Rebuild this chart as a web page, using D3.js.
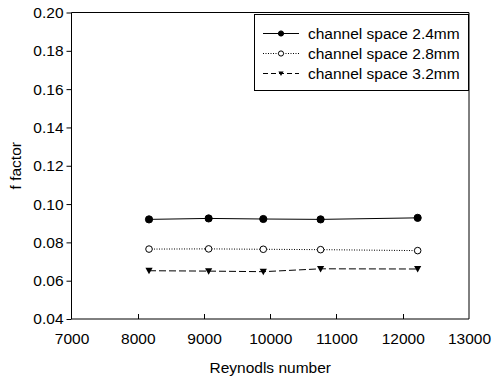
<!DOCTYPE html>
<meta charset="utf-8">
<style>
body { margin: 0; background: #fff; }
svg { font-family: "Liberation Sans", Arial, sans-serif; }
.axis path { display: none; }
.axis text { font-size: 15.5px; fill: #000; }
</style>
<svg width="492" height="380"></svg>
<script src="https://cdn.jsdelivr.net/npm/d3@7"></script>
<script>

var reynolds = [8170, 9070, 9895, 10760, 12225];
var space24 = [0.0920, 0.0925, 0.0922, 0.0920, 0.0928];
var space28 = [0.0765, 0.0766, 0.0764, 0.0762, 0.0757];
var space32 = [0.0652, 0.0650, 0.0647, 0.0662, 0.0661];
var xTicks = [7000, 8000, 9000, 10000, 11000, 12000, 13000];
var yTicks = [0.04, 0.06, 0.08, 0.10, 0.12, 0.14, 0.16, 0.18, 0.20];
var seriesNames = ["channel space 2.4mm", "channel space 2.8mm", "channel space 3.2mm"];

var svg = d3.select("svg"),
    pLeft = 71.5, pRight = 469, pTop = 12.5, pBottom = 319;

var x = d3.scaleLinear().domain([7000, 13000]).range([pLeft, pRight]);
var y = d3.scaleLinear().domain([0.04, 0.20]).range([pBottom, pTop]);

// frame: left/top crisp, bottom/right sit on whole pixels like the original
svg.append("path")
    .attr("d", "M" + pLeft + "," + pBottom + "V" + pTop + "H" + pRight + "V" + pBottom + "H" + pLeft)
    .attr("fill", "none")
    .attr("stroke", "#000");

svg.append("g")
    .attr("class", "axis")
    .attr("transform", "translate(0," + pBottom + ")")
    .call(d3.axisBottom(x).tickValues(xTicks).tickSize(0).tickPadding(14).tickFormat(d3.format("d")));

// inner x ticks, not at the ends
svg.selectAll(".xtick")
    .data(xTicks.slice(1, -1))
  .enter().append("line")
    .attr("x1", function(d) { return Math.round(x(d)) + 0.5; })
    .attr("x2", function(d) { return Math.round(x(d)) + 0.5; })
    .attr("y1", pBottom)
    .attr("y2", pBottom - 5)
    .attr("stroke", "#000");

var gY = svg.append("g")
    .attr("class", "axis")
    .attr("transform", "translate(" + pLeft + ",0)")
    .call(d3.axisLeft(y).tickValues(yTicks).tickSize(5).tickPadding(3).tickFormat(d3.format(".2f")));
gY.selectAll("line").attr("stroke", "#000");

svg.append("text")
    .attr("x", (pLeft + pRight) / 2)
    .attr("y", 373)
    .attr("text-anchor", "middle")
    .attr("font-size", 15.5)
    .text("Reynodls number");

svg.append("text")
    .attr("transform", "translate(21," + ((pTop + pBottom) / 2) + ") rotate(-90)")
    .attr("text-anchor", "middle")
    .attr("font-size", 15.5)
    .text("f factor");

var series = [
  {name: seriesNames[0], values: space24, dash: null, marker: "dot"},
  {name: seriesNames[1], values: space28, dash: "1,1.5", marker: "open"},
  {name: seriesNames[2], values: space32, dash: "7,3", marker: "tri"}
];

var line = d3.line()
    .x(function(d, i) { return x(reynolds[i]); })
    .y(function(d) { return y(d); });

function drawMarker(g, type, cx, cy, r) {
  if (type === "tri") {
    g.append("path")
        .attr("d", "M" + (cx - r) + "," + (cy - r * 0.8) + "L" + (cx + r) + "," + (cy - r * 0.8) + "L" + cx + "," + (cy + r) + "Z")
        .attr("fill", "#000");
  } else {
    g.append("circle")
        .attr("cx", cx).attr("cy", cy).attr("r", r)
        .attr("fill", type === "open" ? "#fff" : "#000")
        .attr("stroke", "#000")
        .attr("stroke-width", 1);
  }
}

series.forEach(function(s) {
  svg.append("path")
      .datum(s.values)
      .attr("d", line)
      .attr("fill", "none")
      .attr("stroke", "#000")
      .attr("stroke-width", 1)
      .attr("stroke-dasharray", s.dash);
  s.values.forEach(function(v, i) {
    drawMarker(svg, s.marker, x(reynolds[i]), y(v), s.marker === "open" ? 3.3 : 3.6);
  });
});

// legend
var legend = svg.append("g");
legend.append("rect")
    .attr("x", 254.5).attr("y", 14.5)
    .attr("width", 214).attr("height", 76)
    .attr("fill", "#fff")
    .attr("stroke", "#000");

series.forEach(function(s, i) {
  var ly = 33.5 + i * 20;
  legend.append("line")
      .attr("x1", 263).attr("x2", 299)
      .attr("y1", ly).attr("y2", ly)
      .attr("stroke", "#000")
      .attr("stroke-dasharray", s.dash === "7,3" ? "5,3" : s.dash);
  drawMarker(legend, s.marker, 281, ly, 2.6);
  legend.append("text")
      .attr("x", 308)
      .attr("y", ly)
      .attr("dy", "0.35em")
      .attr("font-size", 15.5)
      .text(s.name);
});

</script>
